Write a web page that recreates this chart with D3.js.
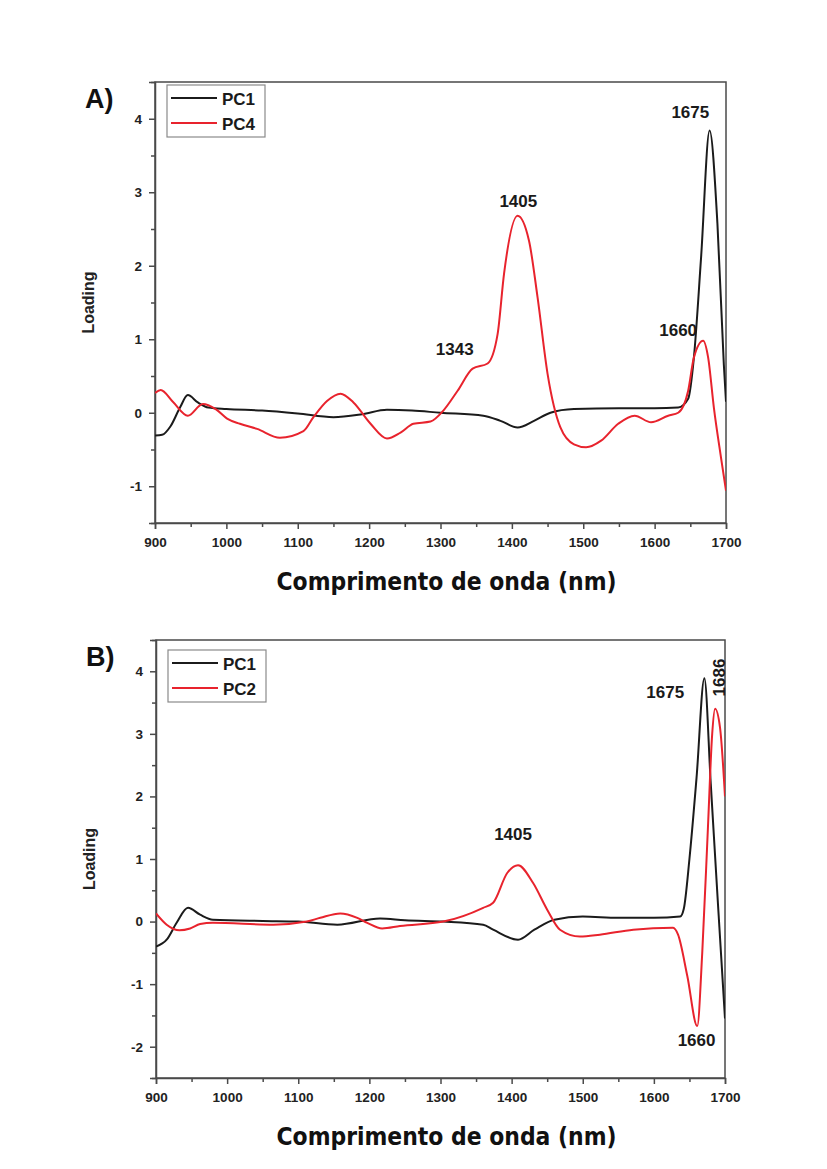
<!DOCTYPE html>
<html>
<head>
<meta charset="utf-8">
<script src="https://cdn.jsdelivr.net/npm/d3@7"></script>
<style>
  html, body { margin: 0; padding: 0; background: #fff; }
  svg { display: block; }
  .xtitle { font-family: "DejaVu Sans Condensed", "DejaVu Sans", sans-serif; font-stretch: condensed; font-weight: bold; }
</style>
</head>
<body>
<svg id="fig" width="827" height="1169"></svg>
<script>
// Wavelength grid / loadings, panel A
const wlA_pc1 = [900, 910, 922, 935, 946, 960, 975, 1000, 1050, 1100, 1150, 1190, 1225, 1260, 1300, 1360, 1384, 1408, 1431, 1454, 1487, 1550, 1600, 1633, 1647, 1655, 1665, 1677, 1688, 1697, 1700];
const loadA_pc1 = [-0.31, -0.30, -0.18, 0.07, 0.24, 0.14, 0.07, 0.05, 0.03, -0.01, -0.06, -0.02, 0.04, 0.03, 0.0, -0.04, -0.11, -0.20, -0.11, 0.0, 0.05, 0.06, 0.06, 0.07, 0.19, 0.75, 2.10, 3.84, 2.57, 0.65, 0.15];

const wlA_pc4 = [900, 908, 925, 946, 967, 985, 1001, 1019, 1043, 1075, 1108, 1122, 1141, 1160, 1178, 1202, 1225, 1244, 1262, 1286, 1304, 1324, 1345, 1366, 1380, 1389, 1408, 1424, 1436, 1450, 1468, 1487, 1504, 1525, 1549, 1572, 1595, 1619, 1633, 1647, 1655, 1668, 1675, 1683, 1693, 1700];
const loadA_pc4 = [0.27, 0.31, 0.15, -0.04, 0.12, 0.05, -0.08, -0.15, -0.22, -0.34, -0.25, -0.06, 0.16, 0.26, 0.14, -0.15, -0.35, -0.27, -0.15, -0.12, 0.03, 0.30, 0.60, 0.67, 1.07, 1.89, 2.68, 2.34, 1.57, 0.53, -0.20, -0.43, -0.47, -0.38, -0.15, -0.04, -0.13, -0.04, 0.0, 0.30, 0.75, 0.98, 0.75, 0.07, -0.61, -1.06];

// Wavelength grid / loadings, panel B
const wlB_pc1 = [900, 915, 929, 945, 962, 980, 1050, 1100, 1155, 1215, 1250, 1304, 1360, 1374, 1409, 1432, 1460, 1500, 1550, 1600, 1637, 1642, 1650, 1660, 1671, 1680, 1690, 1700];
const loadB_pc1 = [-0.40, -0.29, -0.02, 0.22, 0.11, 0.03, 0.01, 0.0, -0.05, 0.05, 0.02, 0.0, -0.05, -0.13, -0.29, -0.13, 0.03, 0.08, 0.06, 0.06, 0.08, 0.20, 1.00, 2.30, 3.89, 2.20, 0.30, -1.55];

const wlB_pc2 = [900, 915, 933, 948, 962, 980, 1065, 1112, 1131, 1159, 1183, 1197, 1218, 1243, 1304, 1360, 1374, 1394, 1409, 1430, 1450, 1468, 1496, 1524, 1571, 1627, 1634, 1647, 1661, 1668, 1676, 1682, 1686, 1693, 1700];
const loadB_pc2 = [0.13, -0.05, -0.14, -0.11, -0.04, -0.02, -0.05, 0.0, 0.06, 0.13, 0.06, -0.02, -0.11, -0.07, 0.0, 0.22, 0.30, 0.78, 0.90, 0.62, 0.19, -0.13, -0.24, -0.21, -0.13, -0.10, -0.21, -0.87, -1.67, -0.50, 1.50, 3.00, 3.40, 3.10, 2.00];

// Axis ticks
const xTicks = [900, 1000, 1100, 1200, 1300, 1400, 1500, 1600, 1700];
const yTicksA = [-1, 0, 1, 2, 3, 4];
const yTicksB = [-2, -1, 0, 1, 2, 3, 4];

// Peak annotations: [text, label wavelength position, label loading position]
const peaksA = [["1675", 1650, 4.01], ["1405", 1409, 2.80], ["1343", 1320, 0.78], ["1660", 1633, 1.05]];
const peaksB = [["1675", 1616, 3.57], ["1405", 1402, 1.31], ["1660", 1660, -1.99]];
const rotatedPeakB = ["1686", 1700, 3.90];

const BLACK = "#1b1b1b", RED = "#e8232d";
const svg = d3.select("#fig");
const fmt = d => String(d);   // plain hyphen-minus like "-1"
const styleTickText = a => a.selectAll("text")
  .style("font-family", "Arial, 'Liberation Sans', sans-serif")
  .style("font-weight", "bold").style("font-size", "13.5px").style("fill", "#222");

function panel(cfg) {
  const { left, right, top, bottom, yDomain, yTicks, series, letter, legendTop, id } = cfg;
  const x = d3.scaleLinear().domain([900, 1700]).range([left, right]);
  const y = d3.scaleLinear().domain(yDomain).range([bottom, top]);
  const g = svg.append("g");

  g.append("clipPath").attr("id", id).append("rect")
    .attr("x", left).attr("y", top).attr("width", right - left).attr("height", bottom - top);

  // frame (top/right)
  g.append("rect").attr("x", left).attr("y", top).attr("width", right - left).attr("height", bottom - top)
    .attr("fill", "none").attr("stroke", "#4a4a4a").attr("stroke-width", 1.5);

  // minor ticks
  const xMinor = d3.range(950, 1700, 100);
  const yMinor = d3.range(yDomain[0], yDomain[1] + 0.001, 1);
  g.append("g").attr("transform", `translate(0,${bottom})`)
    .call(d3.axisBottom(x).tickValues(xMinor).tickSize(4).tickFormat(""))
    .call(a => a.select(".domain").remove())
    .call(a => a.selectAll("line").attr("stroke", "#4a4a4a").attr("stroke-width", 1.5));
  g.append("g").attr("transform", `translate(${left},0)`)
    .call(d3.axisLeft(y).tickValues(yMinor).tickSize(4).tickFormat(""))
    .call(a => a.select(".domain").remove())
    .call(a => a.selectAll("line").attr("stroke", "#4a4a4a").attr("stroke-width", 1.5));

  // major axes
  g.append("g").attr("transform", `translate(0,${bottom})`)
    .call(d3.axisBottom(x).tickValues(xTicks).tickSize(6).tickPadding(8).tickFormat(fmt))
    .call(a => a.select(".domain").attr("stroke", "#4a4a4a").attr("stroke-width", 1.5))
    .call(a => a.selectAll("line").attr("stroke", "#4a4a4a").attr("stroke-width", 1.5))
    .call(styleTickText);
  g.append("g").attr("transform", `translate(${left},0)`)
    .call(d3.axisLeft(y).tickValues(yTicks).tickSize(6).tickPadding(7).tickFormat(fmt))
    .call(a => a.select(".domain").attr("stroke", "#4a4a4a").attr("stroke-width", 1.5))
    .call(a => a.selectAll("line").attr("stroke", "#4a4a4a").attr("stroke-width", 1.5))
    .call(styleTickText);

  // curves
  const line = d3.line().x(d => x(d[0])).y(d => y(d[1])).curve(d3.curveMonotoneX);
  const lines = g.append("g").attr("clip-path", `url(#${id})`);
  series.forEach(s => {
    lines.append("path").datum(d3.zip(s.wl, s.val))
      .attr("d", line).attr("fill", "none").attr("stroke", s.color)
      .attr("stroke-width", 2).attr("stroke-linejoin", "round");
  });

  // legend
  const lg = g.append("g");
  lg.append("rect").attr("x", left + 12).attr("y", legendTop).attr("width", 98).attr("height", 52)
    .attr("fill", "#fff").attr("stroke", "#8a8a8a").attr("stroke-width", 1.2);
  series.forEach((s, i) => {
    const yy = legendTop + 13 + i * 25;
    lg.append("line").attr("x1", left + 16).attr("x2", left + 62).attr("y1", yy).attr("y2", yy)
      .attr("stroke", s.color).attr("stroke-width", 2.2);
    lg.append("text").attr("x", left + 67).attr("y", yy + 6.5).text(s.name)
      .attr("font-family", "Arial, 'Liberation Sans', sans-serif").attr("font-weight", "bold")
      .attr("font-size", 17).attr("fill", "#1a1a1a");
  });

  // panel letter
  g.append("text").attr("x", left - 70).attr("y", top + 26).text(letter)
    .attr("font-family", "Arial, 'Liberation Sans', sans-serif").attr("font-weight", "bold")
    .attr("font-size", 27).attr("fill", "#111");

  // axis titles
  g.append("text").attr("transform", `translate(${left - 61},${(top + bottom) / 2}) rotate(-90)`)
    .attr("text-anchor", "middle").text("Loading")
    .attr("font-family", "Arial, 'Liberation Sans', sans-serif").attr("font-weight", "bold")
    .attr("font-size", 16).attr("fill", "#222");
  g.append("text").attr("class", "xtitle").attr("x", (left + right) / 2 + 6).attr("y", bottom + 67)
    .attr("text-anchor", "middle").text("Comprimento de onda (nm)")
    .attr("textLength", 340).attr("lengthAdjust", "spacingAndGlyphs")
    .attr("font-size", 25).attr("fill", "#111");

  return { g, x, y };
}

function annotate(p, peaks) {
  peaks.forEach(([t, w, v]) => {
    p.g.append("text").attr("x", p.x(w)).attr("y", p.y(v)).attr("text-anchor", "middle").text(t)
      .attr("font-family", "Arial, 'Liberation Sans', sans-serif").attr("font-weight", "bold")
      .attr("font-size", 17).attr("fill", "#1a1a1a");
  });
}

const pA = panel({
  id: "clipA", left: 155, right: 726, top: 82, bottom: 523, yDomain: [-1.5, 4.5], yTicks: yTicksA,
  letter: "A)", legendTop: 85,
  series: [
    { name: "PC1", wl: wlA_pc1, val: loadA_pc1, color: BLACK },
    { name: "PC4", wl: wlA_pc4, val: loadA_pc4, color: RED }
  ]
});
annotate(pA, peaksA);

const pB = panel({
  id: "clipB", left: 156, right: 725, top: 640, bottom: 1078, yDomain: [-2.5, 4.5], yTicks: yTicksB,
  letter: "B)", legendTop: 650,
  series: [
    { name: "PC1", wl: wlB_pc1, val: loadB_pc1, color: BLACK },
    { name: "PC2", wl: wlB_pc2, val: loadB_pc2, color: RED }
  ]
});
annotate(pB, peaksB);
pB.g.append("text")
  .attr("transform", `translate(${pB.x(rotatedPeakB[1])},${pB.y(rotatedPeakB[2])}) rotate(-90)`)
  .attr("text-anchor", "middle").text(rotatedPeakB[0])
  .attr("font-family", "Arial, 'Liberation Sans', sans-serif").attr("font-weight", "bold")
  .attr("font-size", 17).attr("fill", "#1a1a1a");
</script>
</body>
</html>
